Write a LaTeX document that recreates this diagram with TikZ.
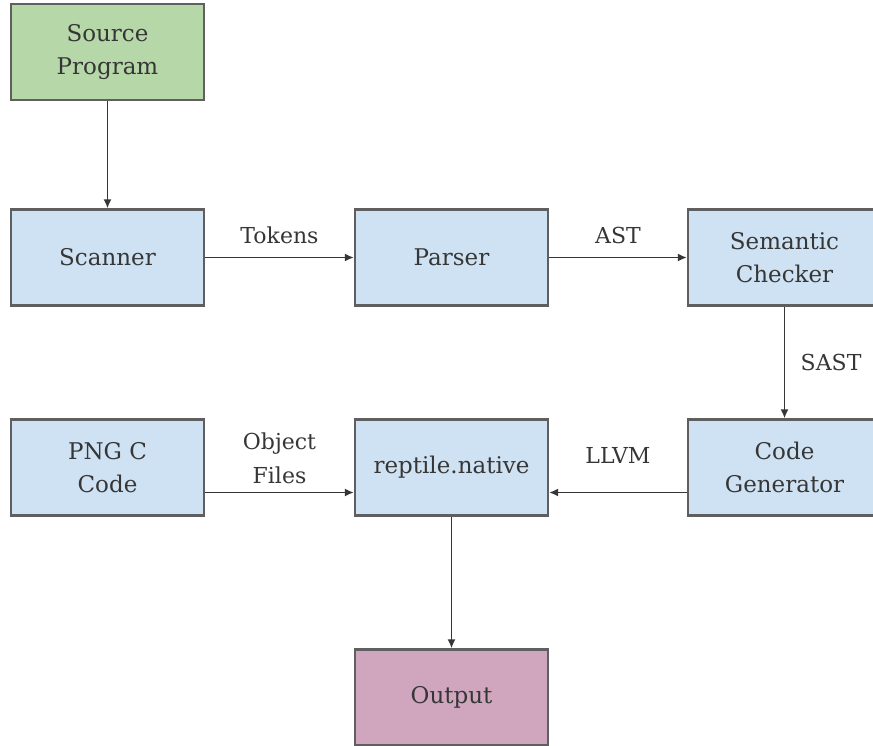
\documentclass[tikz,border=0pt]{standalone}
\usepackage{fontspec}
\setmainfont{DejaVu Serif}
\usetikzlibrary{arrows.meta}

\definecolor{stageblue}{HTML}{CFE2F3}
\definecolor{srcgreen}{HTML}{B6D7A8}
\definecolor{outpink}{HTML}{D0A6BE}
\definecolor{edgegray}{HTML}{5F5F5F}
\definecolor{inkgray}{HTML}{363636}

\begin{document}
\begin{tikzpicture}[
    x=1pt, y=-1pt,
    stage/.style={rectangle,draw=edgegray,line width=2.2pt,fill=stageblue,
        minimum width=193pt,minimum height=96pt,align=center,
        text=inkgray,font=\fontsize{23}{33}\selectfont},
    source/.style={stage,fill=srcgreen},
    result/.style={stage,fill=outpink},
    flow/.style={draw=inkgray,line width=1.8pt,-{Latex[length=9pt,width=8pt]}},
    tag/.style={text=inkgray,font=\fontsize{22}{34}\selectfont,align=center},
]
\useasboundingbox (0,0) rectangle (873,745);
\clip (0,0) rectangle (873,745);

%% Compiler stages
\node[source] (src)     at (107.5,52)    {Source\\Program};
\node[stage]  (scanner) at (107.5,257.5) {Scanner};
\node[stage]  (parser)  at (451.5,257.5) {Parser};
\node[stage]  (semant)  at (784.5,257.5) {Semantic\\Checker};
\node[stage]  (pngc)    at (107.5,467.5) {PNG C\\Code};
\node[stage]  (native)  at (451.5,467.5) {reptile.native};
\node[stage]  (codegen) at (784.5,467.5) {Code\\Generator};
\node[result] (out)     at (451.5,697.5) {Output};

%% Data passed between stages
\draw[flow] (src) -- (scanner);
\draw[flow] (scanner) -- (parser)
    node[tag,midway,anchor=base,yshift=14pt] (tokens) {Tokens};
\draw[flow] (parser) -- (semant)
    node[tag,midway,anchor=base,yshift=14pt] (ast) {AST};
\draw[flow] (semant) -- (codegen)
    node[tag,midway,right=12pt] (sast) {SAST};
% the lower row is joined below the box centres
\draw[flow] ([yshift=-25pt]codegen.west) -- ([yshift=-25pt]native.east)
    node[tag,midway,anchor=base,yshift=29pt] (llvm) {LLVM};
\draw[flow] ([yshift=-25pt]pngc.east) -- ([yshift=-25pt]native.west)
    node[tag,midway,above=4pt] (objs) {Object\\Files};
\draw[flow] (native) -- (out);
\end{tikzpicture}
\end{document}
